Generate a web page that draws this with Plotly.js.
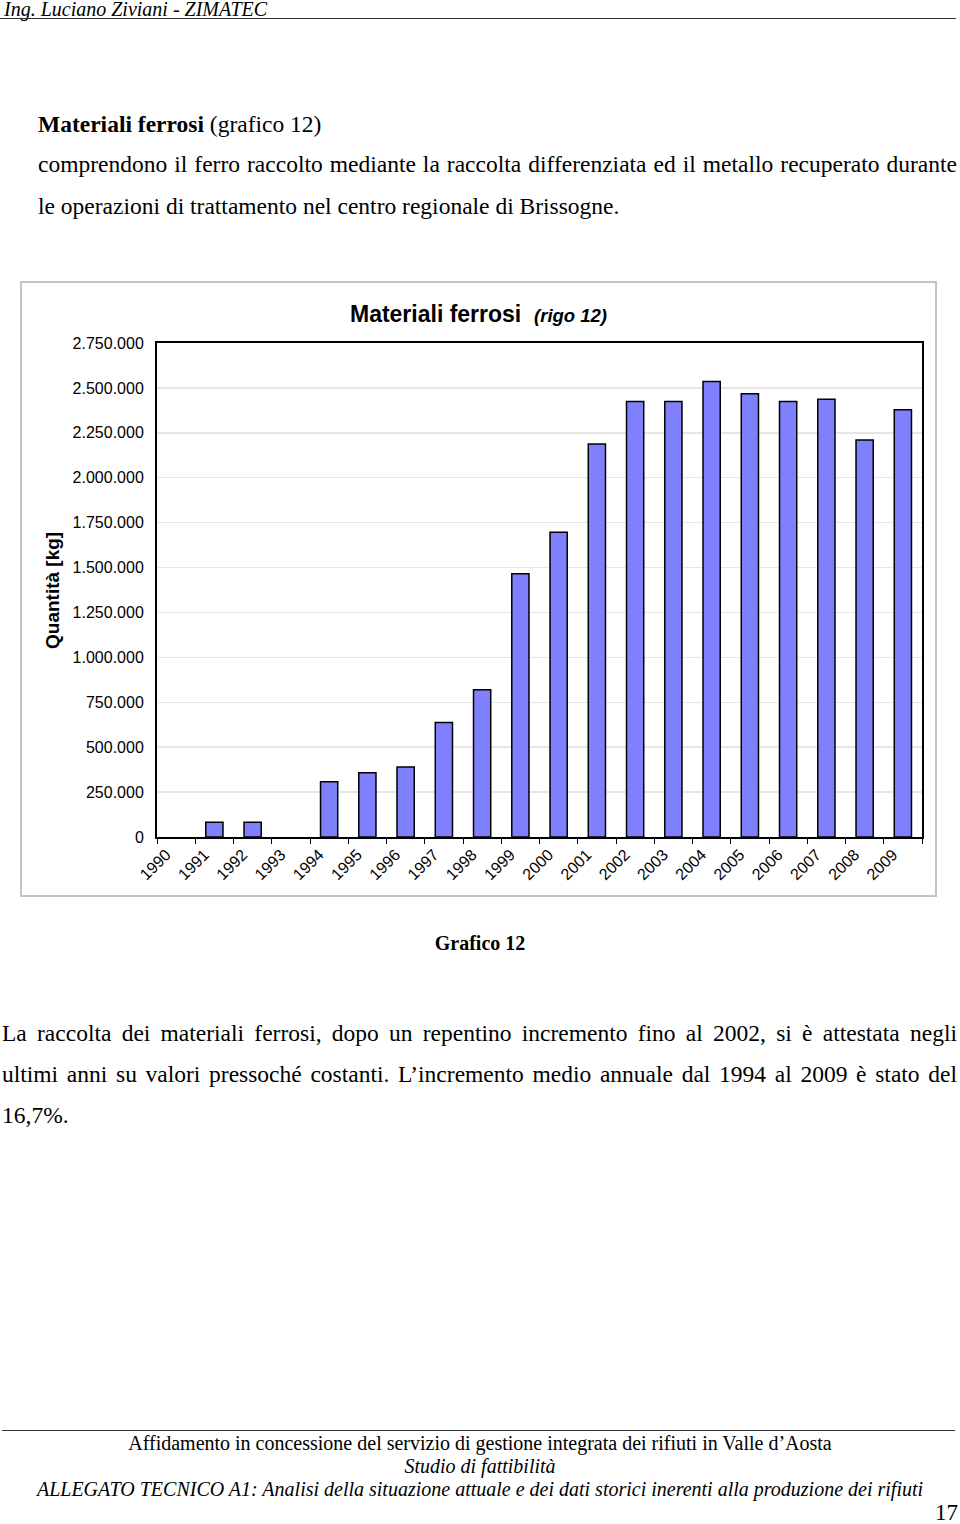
<!DOCTYPE html>
<html>
<head>
<meta charset="utf-8">
<script src="https://cdn.plot.ly/plotly-3.0.1.min.js"></script>
<style>
  html, body { margin:0; padding:0; background:#fff; }
  body { width:960px; height:1524px; position:relative; overflow:hidden; font-family:"Liberation Serif","Times New Roman",serif; color:#000; }
  .t { position:absolute; white-space:nowrap; line-height:28px; font-size:23.5px; }
  .j { text-align:justify; text-align-last:justify; }
  #chartbox { position:absolute; left:20px; top:281px; width:917px; height:616px; box-sizing:border-box; border:2px solid #c4c4c4; }
  #chart { position:absolute; left:0; top:0; width:913px; height:612px; }
</style>
</head>
<body>
<div class="t" style="left:4px; top:-5px; font-size:20px; font-style:italic;">Ing. Luciano Ziviani - ZIMATEC</div>
<div style="position:absolute; left:0; top:18px; width:956px; height:1px; background:#333;"></div>

<div class="t" style="left:38px; top:110px;"><b>Materiali ferrosi</b> (grafico 12)</div>
<div class="t j" style="left:38px; top:150px; width:919px;">comprendono il ferro raccolto mediante la raccolta differenziata ed il metallo recuperato durante</div>
<div class="t" style="left:38px; top:192px;">le operazioni di trattamento nel centro regionale di Brissogne.</div>

<div id="chartbox"><div id="chart"></div></div>

<div class="t" style="left:0; width:960px; text-align:center; top:929px; font-size:20px; font-weight:bold;">Grafico 12</div>

<div class="t j" style="left:2px; top:1019px; width:955px;">La raccolta dei materiali ferrosi, dopo un repentino incremento fino al 2002, si è attestata negli</div>
<div class="t j" style="left:2px; top:1060px; width:955px;">ultimi anni su valori pressoché costanti. L’incremento medio annuale dal 1994 al 2009 è stato del</div>
<div class="t" style="left:2px; top:1101px;">16,7%.</div>

<div style="position:absolute; left:2px; top:1430px; width:953px; height:1px; background:#333;"></div>
<div class="t" style="left:0; width:960px; text-align:center; top:1429px; font-size:20px;">Affidamento in concessione del servizio di gestione integrata dei rifiuti in Valle d’Aosta</div>
<div class="t" style="left:0; width:960px; text-align:center; top:1452px; font-size:20px; font-style:italic;">Studio di fattibilità</div>
<div class="t" style="left:0; width:960px; text-align:center; top:1475px; font-size:20px; font-style:italic;">ALLEGATO TECNICO A1: Analisi della situazione attuale e dei dati storici inerenti alla produzione dei rifiuti</div>
<div class="t" style="left:935px; top:1499px; font-size:23px;">17</div>

<script>
const years = ["1990","1991","1992","1993","1994","1995","1996","1997","1998","1999",
               "2000","2001","2002","2003","2004","2005","2006","2007","2008","2009"];
const quantities = [0, 82000, 82000, 0, 308000, 358000, 390000, 638000, 820000, 1465000,
                    1697000, 2188000, 2425000, 2425000, 2535000, 2468000, 2425000, 2437000, 2210000, 2379000];
const yTicks = [0, 250000, 500000, 750000, 1000000, 1250000, 1500000, 1750000, 2000000, 2250000, 2500000, 2750000];
const chartTitle = '<b>Materiali ferrosi</b>  <span style="font-size:18.5px"><b><i>(rigo 12)</i></b></span>';
const yTitle = '<b>Quantità [kg]</b>';

const trace = {
  type: 'bar',
  x: years,
  y: quantities,
  marker: { color: '#8080ff', line: { color: '#000', width: quantities.map(v => v > 0 ? 1.5 : 0) } },
  hoverinfo: 'x+y'
};

const layout = {
  width: 913, height: 612,
  margin: { l: 135, r: 13, t: 60, b: 58 },
  paper_bgcolor: '#fff', plot_bgcolor: '#fff',
  separators: ',.',
  showlegend: false,
  bargap: 0.55,
  font: { family: '"Liberation Sans", Arial, sans-serif', color: '#000', size: 16 },
  title: { text: chartTitle, x: 0.5, xanchor: 'center', xref: 'container', y: 1 - 31/612, yanchor: 'middle', yref: 'container',
           font: { family: '"Liberation Sans", Arial, sans-serif', size: 23, color: '#000' } },
  xaxis: {
    type: 'category',
    tickangle: -45,
    tickson: 'boundaries',
    ticks: 'outside', ticklen: 5, tickcolor: '#000', tickwidth: 1,
    ticklabelshift: -10,
    showline: true, linecolor: '#000', linewidth: 2, mirror: true,
    showgrid: false, zeroline: false,
    tickfont: { size: 16 }
  },
  yaxis: {
    range: [0, 2750000],
    tickvals: yTicks,
    tickformat: ',d',
    ticks: '', ticklabelstandoff: 8,
    showline: true, linecolor: '#000', linewidth: 2, mirror: true,
    showgrid: true, gridcolor: '#e6e6e6', gridwidth: 1.5,
    zeroline: false,
    tickfont: { size: 16 }
  },
  annotations: [{
    text: yTitle, textangle: -90, xref: 'paper', yref: 'paper',
    x: (52 - 157) / 765, y: 0.5, xanchor: 'center', yanchor: 'middle', showarrow: false,
    font: { family: '"Liberation Sans", Arial, sans-serif', size: 19, color: '#000' }
  }]
};

Plotly.newPlot('chart', [trace], layout, { displayModeBar: false, staticPlot: true });
</script>
</body>
</html>
